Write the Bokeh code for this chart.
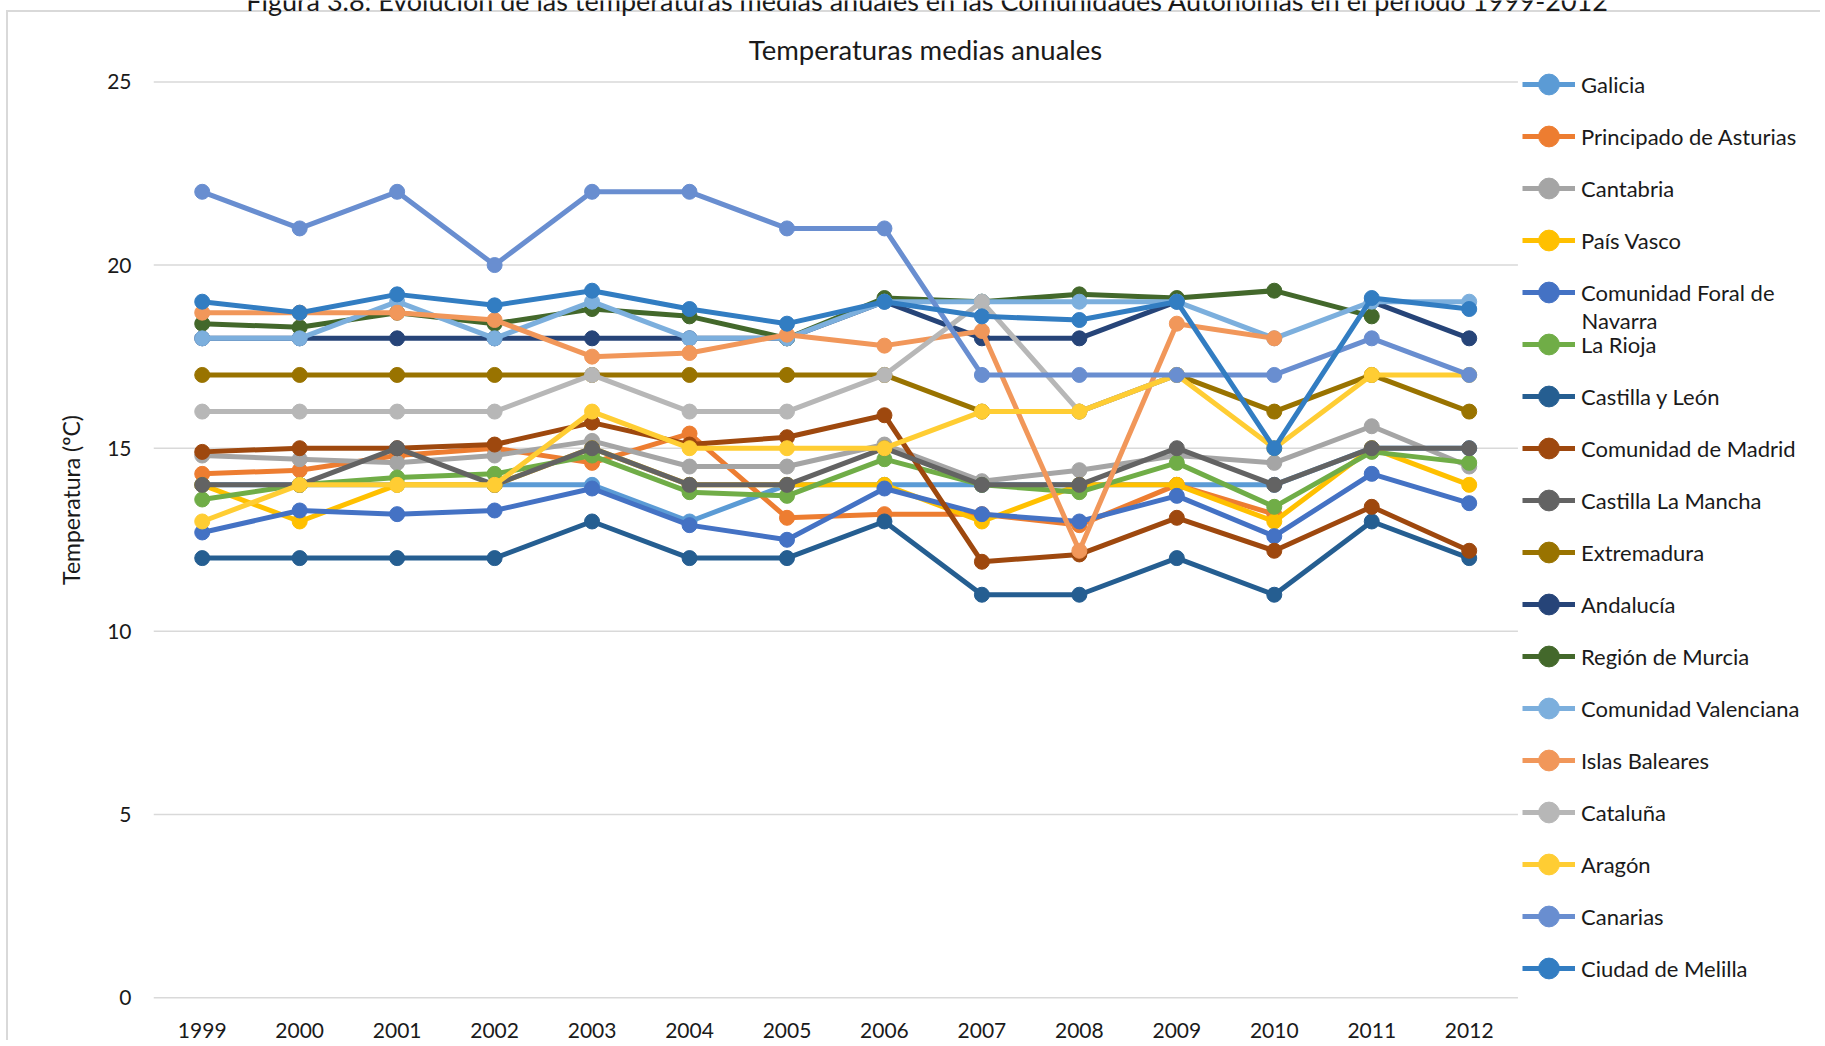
from bokeh.plotting import figure
from bokeh.models import Range1d, Legend, LegendItem, Label, FixedTicker, BasicTickFormatter
from bokeh.embed import file_html
from bokeh.resources import INLINE

nan = float("nan")

years = [1999, 2000, 2001, 2002, 2003, 2004, 2005,
         2006, 2007, 2008, 2009, 2010, 2011, 2012]

galicia     = [14, 14, 14, 14, 14, 13, 14, 14, 14, 14, 14, 14, 15, 15]
asturias    = [14.3, 14.4, 14.8, 15.0, 14.6, 15.4, 13.1, 13.2, 13.2, 12.9, 14.0, 13.2, nan, nan]
cantabria   = [14.8, 14.7, 14.6, 14.8, 15.2, 14.5, 14.5, 15.1, 14.1, 14.4, 14.8, 14.6, 15.6, 14.5]
pais_vasco  = [14, 13, 14, 14, 15, 14, 14, 14, 13, 14, 14, 13, 15, 14]
navarra     = [12.7, 13.3, 13.2, 13.3, 13.9, 12.9, 12.5, 13.9, 13.2, 13.0, 13.7, 12.6, 14.3, 13.5]
la_rioja    = [13.6, 14.0, 14.2, 14.3, 14.8, 13.8, 13.7, 14.7, 14.0, 13.8, 14.6, 13.4, 14.9, 14.6]
cyl         = [12, 12, 12, 12, 13, 12, 12, 13, 11, 11, 12, 11, 13, 12]
madrid      = [14.9, 15.0, 15.0, 15.1, 15.7, 15.1, 15.3, 15.9, 11.9, 12.1, 13.1, 12.2, 13.4, 12.2]
clm         = [14, 14, 15, 14, 15, 14, 14, 15, 14, 14, 15, 14, 15, 15]
extremadura = [17, 17, 17, 17, 17, 17, 17, 17, 16, 16, 17, 16, 17, 16]
andalucia   = [18, 18, 18, 18, 18, 18, 18, 19, 18, 18, 19, nan, 19, 18]
murcia      = [18.4, 18.3, 18.7, 18.4, 18.8, 18.6, 18.0, 19.1, 19.0, 19.2, 19.1, 19.3, 18.6, nan]
valenciana  = [18, 18, 19, 18, 19, 18, 18, 19, 19, 19, 19, 18, 19, 19]
baleares    = [18.7, 18.7, 18.7, 18.5, 17.5, 17.6, 18.1, 17.8, 18.2, 12.2, 18.4, 18.0, nan, nan]
cataluna    = [16, 16, 16, 16, 17, 16, 16, 17, 19, 16, 17, nan, nan, nan]
aragon      = [13, 14, 14, 14, 16, 15, 15, 15, 16, 16, 17, 15, 17, 17]
canarias    = [22, 21, 22, 20, 22, 22, 21, 21, 17, 17, 17, 17, 18, 17]
melilla     = [19.0, 18.7, 19.2, 18.9, 19.3, 18.8, 18.4, 19.0, 18.6, 18.5, 19.0, 15.0, 19.1, 18.8]

names = ["Galicia", "Principado de Asturias", "Cantabria", "País Vasco",
         "Comunidad Foral de", "La Rioja", "Castilla y León", "Comunidad de Madrid",
         "Castilla La Mancha", "Extremadura", "Andalucía", "Región de Murcia",
         "Comunidad Valenciana", "Islas Baleares", "Cataluña", "Aragón",
         "Canarias", "Ciudad de Melilla"]
series = [galicia, asturias, cantabria, pais_vasco, navarra, la_rioja, cyl, madrid,
          clm, extremadura, andalucia, murcia, valenciana, baleares, cataluna,
          aragon, canarias, melilla]
colors = ["#5B9BD5", "#ED7D31", "#A5A5A5", "#FFC000", "#4472C4", "#70AD47",
          "#255E91", "#9E480E", "#636363", "#997300", "#264478", "#43682B",
          "#7CAFDD", "#F1975A", "#B7B7B7", "#FFCD33", "#698ED0", "#327DC2"]

yticks = [0, 5, 10, 15, 20, 25]

figure_caption = ("Figura 3.8: Evolución de las temperaturas medias anuales en las "
                  "Comunidades Autónomas en el periodo 1999-2012")
chart_title = "Temperaturas medias anuales"
y_label = "Temperatura (ºC)"

FONT = "Lato"
TXT = "#1a1a1a"

W, H = 1820, 1040
LEFT, BOTTOM = 153, 40
PX_PER_YEAR = 97.46
PX_PER_DEG = 36.667

x_start = years[0] - 0.5
x_end = x_start + (W - LEFT) / PX_PER_YEAR
y_start = -0.05
y_end = y_start + (H - BOTTOM) / PX_PER_DEG


def px_x(px):
    return x_start + (px - LEFT) / PX_PER_YEAR


def px_y(py):
    return y_start + (H - BOTTOM - py) / PX_PER_DEG


p = figure(width=W, height=H, output_backend="svg", toolbar_location=None,
           x_range=Range1d(x_start, x_end), y_range=Range1d(y_start, y_end),
           min_border_left=LEFT, min_border_right=0,
           min_border_top=0, min_border_bottom=BOTTOM)

p.outline_line_color = None
p.background_fill_alpha = 0
p.border_fill_alpha = 0
# light chart border (left and top edges) drawn behind the transparent canvas
p.styles = {
    "background-color": "white",
    "background-image": "linear-gradient(#D9D9D9, #D9D9D9), linear-gradient(#D9D9D9, #D9D9D9)",
    "background-repeat": "no-repeat, no-repeat",
    "background-position": "6px 10px, 6px 10px",
    "background-size": "2px 3000px, 3000px 2px",
}
p.xgrid.grid_line_color = None
p.ygrid.grid_line_color = None

# horizontal gridlines only across the plot area (years span)
p.segment(x0=[years[0] - 0.5] * len(yticks), x1=[years[-1] + 0.5] * len(yticks),
          y0=yticks, y1=yticks, line_color="#D9D9D9", line_width=1.5)

p.xaxis.ticker = FixedTicker(ticks=years)
p.xaxis.formatter = BasicTickFormatter(use_scientific=False)
p.yaxis.ticker = FixedTicker(ticks=yticks)

for ax in (p.xaxis[0], p.yaxis[0]):
    ax.axis_line_color = None
    ax.major_tick_line_color = None
    ax.minor_tick_line_color = None
    ax.major_tick_in = 0
    ax.major_tick_out = 0
    ax.major_label_text_font = FONT
    ax.major_label_text_font_size = "21px"
    ax.major_label_text_color = TXT
p.yaxis.major_label_standoff = 22
p.xaxis.major_label_standoff = 23

p.yaxis.axis_label = y_label
p.yaxis.axis_label_text_font = FONT
p.yaxis.axis_label_text_font_size = "23px"
p.yaxis.axis_label_text_font_style = "normal"
p.yaxis.axis_label_text_color = TXT
p.yaxis.axis_label_standoff = 19

items = []
for name, vals, col in zip(names, series, colors):
    r1 = p.line(years, vals, line_color=col, line_width=5)
    r2 = p.scatter(years, vals, size=15, fill_color=col, line_color=col, marker="circle")
    items.append(LegendItem(label=name, renderers=[r1, r2]))

legend = Legend(items=items, location=(1369, 5), orientation="vertical",
                glyph_width=53, glyph_height=52, label_height=52, spacing=0,
                label_standoff=6, padding=0, margin=0,
                border_line_color=None, background_fill_alpha=0,
                label_text_font=FONT, label_text_font_size="22px",
                label_text_color=TXT, label_text_baseline="middle")
p.add_layout(legend)

p.add_layout(Label(x=px_x(1581), y=px_y(320), text="Navarra",
                   text_font=FONT, text_font_size="22px", text_color=TXT,
                   text_baseline="middle", text_align="left"))

p.add_layout(Label(x=px_x(925), y=px_y(49), text=chart_title,
                   text_font=FONT, text_font_size="27.5px", text_color=TXT,
                   text_baseline="middle", text_align="center"))

# page caption, cut off at the top edge as in the original screenshot
p.add_layout(Label(x=px_x(927), y=px_y(0.5), text=figure_caption,
                   text_font=FONT, text_font_size="27px", text_color=TXT,
                   text_baseline="alphabetic", text_align="center"))

open("out.html", "w").write(file_html(p, INLINE))
